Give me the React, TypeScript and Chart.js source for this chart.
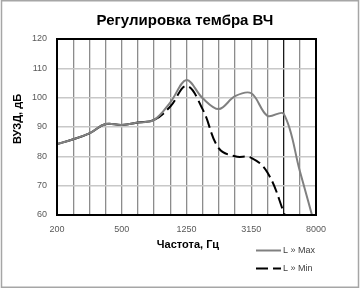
import React, { useEffect, useRef } from "react";
import { Chart, registerables } from "chart.js";

Chart.register(...registerables);

const frequencies = ["200", "250", "315", "400", "500", "630", "800", "1000", "1250", "1600", "2000", "2500", "3150", "4000", "5000", "6300", "8000"];
const shownTicks = ["200", "500", "1250", "3150", "8000"];
const maxSeries = [84.2, 85.8, 87.8, 91, 90.7, 91.5, 92.4, 98.4, 106, 99.8, 96.1, 100.5, 101.5, 93.8, 94.5, 75, 55];
const minSeries = [84.2, 85.8, 87.8, 91, 90.7, 91.5, 92.4, 97, 104, 96, 82.7, 80, 79.5, 74.5, 61, 45, null];
const yTicks = [60, 70, 80, 90, 100, 110, 120];

const TITLE = "Регулировка тембра ВЧ";
const X_TITLE = "Частота, Гц";
const Y_TITLE = "ВУЗД, дБ";
const LEGEND_MAX = "L » Max";
const LEGEND_MIN = "L » Min";

const FONT = "'Liberation Sans', Arial, sans-serif";

const decorPlugin = {
  id: "decor",
  beforeDraw(chart: any) {
    const { ctx, width, height } = chart;
    ctx.save();
    ctx.fillStyle = "#ffffff";
    ctx.fillRect(0, 0, width, height);
    ctx.restore();
  },
  afterDraw(chart: any) {
    const { ctx, chartArea } = chart;
    ctx.save();
    // outer border
    ctx.strokeStyle = "#a6a6a6";
    ctx.lineWidth = 1.5;
    ctx.strokeRect(1.5, 0.75, 357, 286.5);
    // plot frame
    ctx.strokeStyle = "#000000";
    ctx.lineWidth = 2;
    ctx.strokeRect(chartArea.left, chartArea.top, chartArea.right - chartArea.left, chartArea.bottom - chartArea.top);
    // title
    ctx.fillStyle = "#000000";
    ctx.textAlign = "center";
    ctx.textBaseline = "middle";
    ctx.font = `bold 15px ${FONT}`;
    ctx.fillText(TITLE, 185, 21);
    // x title
    ctx.font = `bold 11px ${FONT}`;
    ctx.fillText(X_TITLE, 188, 245);
    // y title
    ctx.save();
    ctx.translate(18, 119);
    ctx.rotate(-Math.PI / 2);
    ctx.fillText(Y_TITLE, 0, 0);
    ctx.restore();
    // legend
    ctx.font = `9px ${FONT}`;
    ctx.textAlign = "left";
    ctx.fillStyle = "#404040";
    ctx.strokeStyle = "#808080";
    ctx.lineWidth = 2;
    ctx.beginPath();
    ctx.moveTo(256, 250.5);
    ctx.lineTo(281, 250.5);
    ctx.stroke();
    ctx.fillText(LEGEND_MAX, 283, 251);
    ctx.strokeStyle = "#000000";
    ctx.setLineDash([12, 5]);
    ctx.beginPath();
    ctx.moveTo(256, 268.5);
    ctx.lineTo(281, 268.5);
    ctx.stroke();
    ctx.setLineDash([]);
    ctx.fillText(LEGEND_MIN, 283, 269);
    ctx.restore();
  },
};

export default function App() {
  const ref = useRef<HTMLCanvasElement>(null);
  useEffect(() => {
    if (!ref.current) return;
    const chart = new Chart(ref.current, {
      type: "line",
      data: {
        labels: frequencies,
        datasets: [
          {
            label: LEGEND_MAX,
            data: maxSeries,
            borderColor: "#808080",
            borderWidth: 2,
            pointRadius: 0,
            tension: 0.35,
            fill: false,
          },
          {
            label: LEGEND_MIN,
            data: minSeries,
            borderColor: "#000000",
            borderWidth: 2,
            pointRadius: 0,
            tension: 0.4,
            fill: false,
            segment: {
              borderDash: (c: any) => (c.p0DataIndex < 6 ? [] : [12, 5]),
            },
          },
        ],
      },
      options: {
        responsive: false,
        animation: false,
        layout: { padding: { top: 39, right: 45, left: 0, bottom: 0 } },
        plugins: { legend: { display: false }, title: { display: false }, tooltip: { enabled: false } },
        scales: {
          x: {
            type: "category",
            offset: false,
            afterFit: (s: any) => {
              s.height = 74;
            },
            grid: {
              drawTicks: false,
              color: (c: any) => (c.index === 14 ? "#1a1a1a" : "#8c8c8c"),
              lineWidth: 1.3,
            },
            border: { display: false },
            ticks: {
              autoSkip: false,
              maxRotation: 0,
              padding: 9,
              color: "#595959",
              font: { family: FONT, size: 9 },
              callback: (_v: any, i: number) => (shownTicks.includes(frequencies[i]) ? frequencies[i] : ""),
            },
          },
          y: {
            min: yTicks[0],
            max: yTicks[yTicks.length - 1],
            afterFit: (s: any) => {
              s.width = 57;
            },
            afterBuildTicks: (s: any) => {
              s.ticks = yTicks.map((v) => ({ value: v }));
            },
            grid: { drawTicks: false, color: "#c8c8c8", lineWidth: 1.6 },
            border: { display: false },
            ticks: {
              padding: 10,
              color: "#595959",
              font: { family: FONT, size: 9 },
            },
          },
        },
      },
      plugins: [decorPlugin],
    });
    return () => chart.destroy();
  }, []);
  return (
    <div style={{ position: "fixed", left: 0, top: 0, width: 361, height: 289 }}>
      <canvas ref={ref} width={361} height={289} style={{ display: "block" }} />
    </div>
  );
}
